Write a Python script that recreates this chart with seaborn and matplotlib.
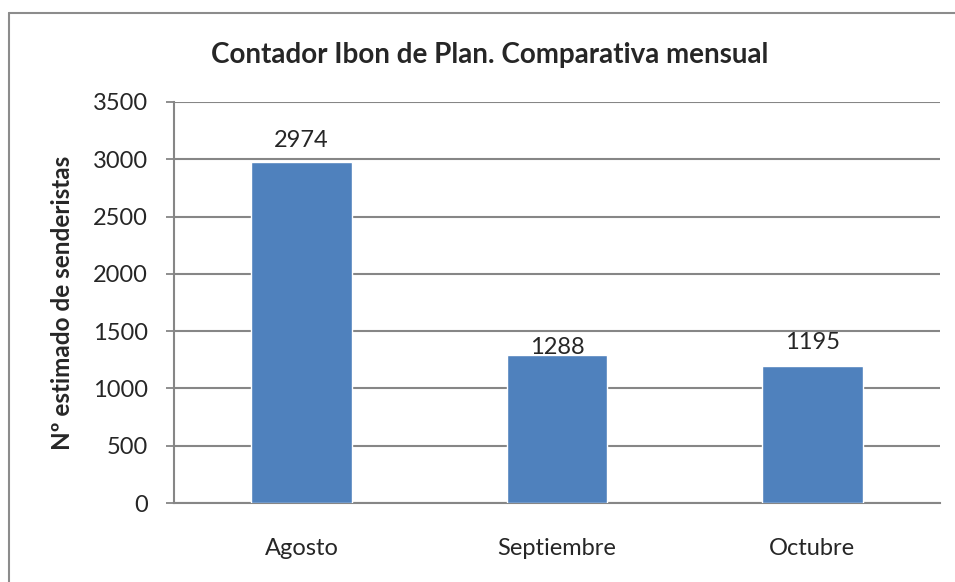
import matplotlib
matplotlib.use("Agg")
import matplotlib.pyplot as plt
import seaborn as sns
import pandas as pd

# Chart data
months = ["Agosto", "Septiembre", "Octubre"]
hikers = [2974, 1288, 1195]
yticks = [0, 500, 1000, 1500, 2000, 2500, 3000, 3500]

title = "Contador Ibon de Plan. Comparativa mensual"
ylabel = "Nº estimado de senderistas"

df = pd.DataFrame({"Mes": months, "Senderistas": hikers})

sns.set_style("white")
plt.rcParams["font.family"] = ["Lato", "DejaVu Sans"]

grey = "#868686"
blue = "#4F81BD"

fig = plt.figure(figsize=(9.55, 5.82), dpi=100)
ax = fig.add_axes([174 / 955, 79 / 582, 766 / 955, 401 / 582])

sns.barplot(data=df, x="Mes", y="Senderistas", color=blue, width=0.395,
            saturation=1, ax=ax, zorder=3)

ax.set_ylim(0, 3500)
ax.set_xlim(-0.5, len(months) - 0.5)
ax.set_yticks(yticks)
ax.set_yticklabels([str(t) for t in yticks], fontsize=17)
ax.tick_params(axis="x", labelsize=17, length=0, pad=25)
ax.tick_params(axis="y", length=6, width=1.3, color=grey, pad=13, direction="out", left=True)
ax.yaxis.grid(True, color=grey, linewidth=1.5, zorder=0)
ax.set_axisbelow(True)

for side in ["top", "right"]:
    ax.spines[side].set_visible(False)
for side in ["left", "bottom"]:
    ax.spines[side].set_color(grey)
    ax.spines[side].set_linewidth(1.5)

ax.set_xlabel("")
ax.set_ylabel(ylabel, fontsize=17.5, fontweight="bold", labelpad=13)

# value labels above bars (Excel places them a bit irregularly)
label_pad = [11, 1, 12]
for bar, val, pad in zip(ax.patches, hikers, label_pad):
    ax.annotate(str(val), (bar.get_x() + bar.get_width() / 2, bar.get_height()),
                xytext=(0, pad), textcoords="offset points",
                ha="center", va="baseline", fontsize=17)

fig.text(490 / 955, 1 - 55 / 582, title, ha="center", va="center",
         fontsize=20, fontweight="bold")

# outer chart border (only left and top visible in the crop)
fig.add_artist(plt.Line2D([9 / 955, 9 / 955], [0, 1 - 13 / 582], color="#8c8c8c",
                          linewidth=1.5, transform=fig.transFigure))
fig.add_artist(plt.Line2D([9 / 955, 1], [1 - 13 / 582, 1 - 13 / 582], color="#8c8c8c",
                          linewidth=1.5, transform=fig.transFigure))

fig.savefig("out.png", dpi=100, facecolor="white")
